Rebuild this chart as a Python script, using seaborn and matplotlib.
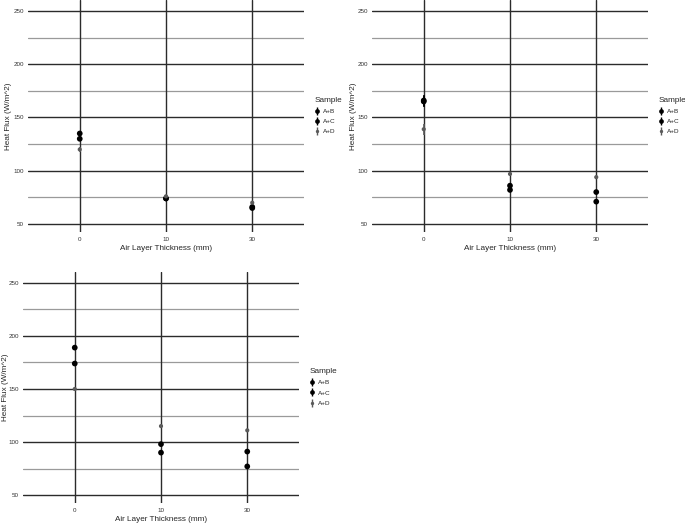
import matplotlib
matplotlib.use("Agg")
import matplotlib.pyplot as plt
from matplotlib.lines import Line2D
import seaborn as sns
import pandas as pd
import numpy as np

sns.set_style("white")
plt.rcParams['font.family'] = ['Liberation Sans', 'DejaVu Sans']

thickness = ["0", "10", "30"]
samples = ["A+B", "A+C", "A+D"]

# panel 1
p1_AB = [135, 74, 66]
p1_AC = [130, 74, 65]
p1_AD = [120, 76, 70]
p1_err = [2, 1, 1]
# panel 2
p2_AB = [166, 86, 80]
p2_AC = [165, 82, 71]
p2_AD = [139, 97, 94]
p2_err = [5, 1, 1]
# panel 3
p3_AB = [189, 98, 91]
p3_AC = [174, 90, 77]
p3_AD = [150, 115, 111]
p3_err = [1, 1, 1]

colors = {"A+B": "#000000", "A+C": "#000000", "A+D": "#5a5a5a"}
sizes = {"A+B": 17, "A+C": 17, "A+D": 9}

panels = [
    ((p1_AB, p1_AC, p1_AD), p1_err, [28, 0, 276, 232], -0.058),
    ((p2_AB, p2_AC, p2_AD), p2_err, [372, 0, 276, 232], -0.054),
    ((p3_AB, p3_AC, p3_AD), p3_err, [23, 272, 276, 231], -0.052),
]

W, H = 685, 524
fig = plt.figure(figsize=(W / 100, H / 100), dpi=100)

for vals, err, (px, py, pw, ph), ylx in panels:
    ax = fig.add_axes([px / W, 1 - (py + ph) / H, pw / W, ph / H])
    rows = []
    for s, v in zip(samples, vals):
        for t, y, e in zip(thickness, v, err):
            rows.append({"Air": t, "Flux": y, "Sample": s, "err": e})
    df = pd.DataFrame(rows)
    # grid
    for y in [75, 125, 175, 225]:
        ax.axhline(y, color="#9a9a9a", lw=0.9, zorder=0)
    for y in [50, 100, 150, 200, 250]:
        ax.axhline(y, color="#2b2b2b", lw=1.0, zorder=0)
    for x in range(3):
        ax.axvline(x, color="#2b2b2b", lw=1.0, zorder=0)
    for s in samples:
        d = df[df.Sample == s]
        xi = [thickness.index(a) for a in d.Air]
        ax.errorbar(xi, d.Flux, yerr=d.err, fmt="none", ecolor=colors[s],
                    elinewidth=1.2, zorder=2)
    for s in samples:
        sns.scatterplot(data=df[df.Sample == s], x="Air", y="Flux", color=colors[s],
                        s=sizes[s], edgecolor="none", ax=ax, legend=False, zorder=3)
    ax.set_xlim(-0.6, 2.6)
    ax.set_ylim(42.5, 260.3)
    ax.set_yticks([50, 100, 150, 200, 250])
    ax.set_yticklabels(["50", "100", "150", "200", "250"])
    ax.tick_params(axis="both", labelsize=4.5, length=2.0, width=0.6, color="#333333",
                   pad=1.0, labelcolor="#333333")
    ax.tick_params(axis="x", pad=1.5)
    ax.set_xlabel("Air Layer Thickness (mm)", fontsize=5.9, labelpad=2.5)
    ax.set_ylabel("Heat Flux (W/m^2)", fontsize=5.9)
    ax.yaxis.set_label_coords(ylx, 0.5)
    for sp in ax.spines.values():
        sp.set_visible(False)
    handles = []
    for s in samples:
        ms = 3.4 if s != "A+D" else 2.4
        h = (Line2D([], [], ls="none", marker="|", ms=6, mew=1.0, color=colors[s]),
             Line2D([], [], ls="none", marker="o", ms=ms, mew=0, color=colors[s]))
        handles.append(h)
    leg = ax.legend(handles=handles, labels=samples, title="Sample", loc="upper left",
                    bbox_to_anchor=(1.03, 0.595), frameon=False, fontsize=4.6,
                    title_fontsize=5.9, handlelength=0.7, handletextpad=0.6,
                    labelspacing=0.75, borderaxespad=0)
    leg._legend_box.align = "left"

fig.savefig("out.png", dpi=100)
